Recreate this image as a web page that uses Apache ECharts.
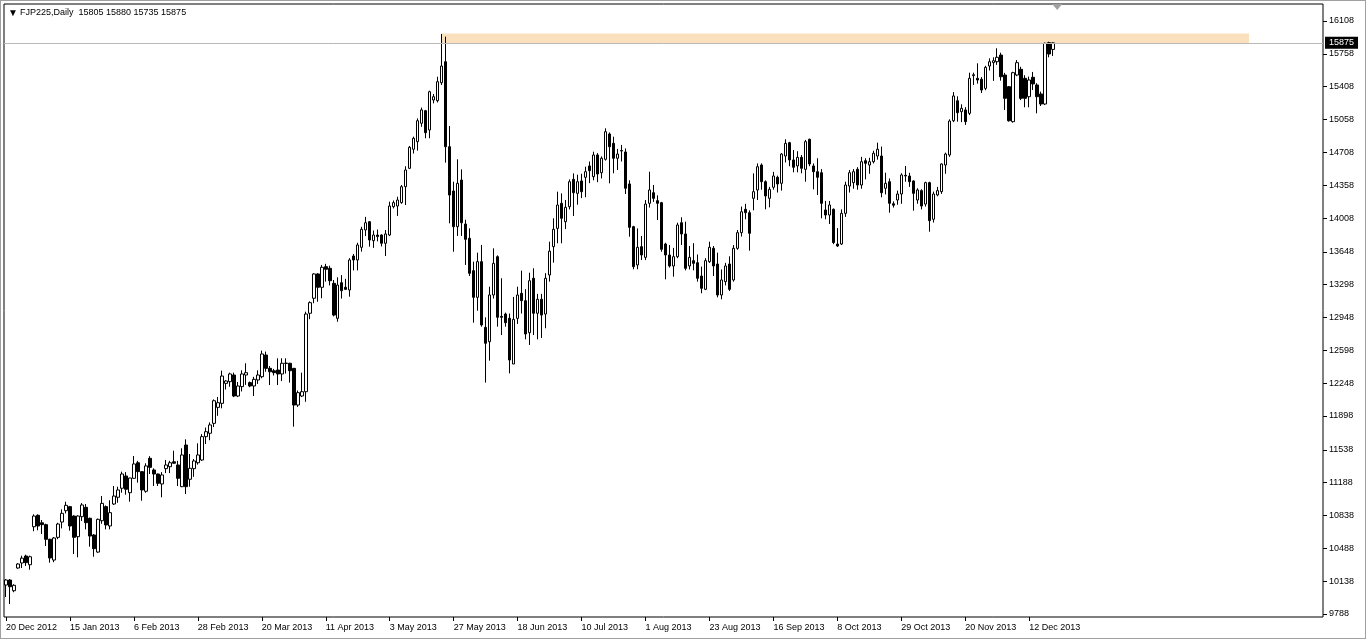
<!DOCTYPE html>
<html>
<head>
<meta charset="utf-8">
<script src="https://cdn.jsdelivr.net/npm/echarts@6/dist/echarts.min.js"></script>
<style>
html,body{margin:0;padding:0;background:#fff;}
#c{position:absolute;left:0;top:0;width:1366px;height:639px;}
#f{position:absolute;left:0;top:0;width:1366px;height:639px;box-sizing:border-box;border:1px solid #a0a0a0;pointer-events:none;}
</style>
</head>
<body>
<div id="c"></div>
<div id="f"></div>
<script>
// Date labels shown every 16 bars
const tickLabels = ["20 Dec 2012","15 Jan 2013","6 Feb 2013","28 Feb 2013","20 Mar 2013","11 Apr 2013","3 May 2013","27 May 2013","18 Jun 2013","10 Jul 2013","1 Aug 2013","23 Aug 2013","16 Sep 2013","8 Oct 2013","29 Oct 2013","20 Nov 2013","12 Dec 2013"];
const priceTicks = [9788,10138,10488,10838,11188,11538,11898,12248,12598,12948,13298,13648,14008,14358,14708,15058,15408,15758,16108];
const lastPrice = 15875;
const zoneTop = 15975, zoneBottom = 15862;
const titleText = "FJP225,Daily  15805 15880 15735 15875";

const opens = [10097,10150,10036,10278,10332,10406,10313,10718,10840,10760,10740,10584,10363,10605,10768,10889,10932,10832,10612,10825,10925,10808,10630,10448,10782,10932,10726,10960,11032,11128,
11259,11081,11234,11400,11305,11096,11447,11323,11280,11174,11337,11358,11410,11376,11145,11589,11224,11337,11400,11429,11678,11714,11820,11990,12033,12246,12264,12335,12111,12211,
12335,12254,12218,12282,12317,12548,12406,12380,12388,12346,12458,12460,12406,12015,12111,12157,12993,13153,13412,13270,13490,13472,13312,12939,13319,13270,13241,13603,13561,13696,
13881,13969,13767,13827,13827,13739,13827,14129,14136,14172,14342,14538,14741,14822,15018,15152,14946,15266,15258,15450,15674,14768,14296,13916,14413,13944,13792,13447,13163,13543,
12843,12690,13188,13596,12960,12985,12939,12452,12939,13206,13127,12786,13366,12993,13142,12985,13401,13703,13898,14165,13969,14129,14420,14271,14403,14442,14563,14449,14680,14491,
14634,14904,14804,14645,14722,14712,14371,13916,13508,13703,13589,14165,14278,14193,14172,13731,13614,13497,13596,13958,13838,13497,13554,13532,13390,13248,13543,13685,13518,13188,
13330,13518,13348,13685,13852,14101,14065,14218,14307,14573,14395,14218,14336,14442,14378,14669,14811,14627,14563,14655,14527,14847,14563,14502,14491,14094,14040,14101,13731,13731,
14058,14349,14385,14527,14360,14619,14573,14608,14669,14669,14325,14395,14160,14200,14264,14463,14456,14403,14200,14300,14157,14385,13995,14254,14289,14573,14680,15045,15258,15141,
15160,15124,15525,15497,15487,15390,15628,15664,15674,15745,15532,15408,15035,15532,15593,15497,15301,15508,15426,15330,15223,15877,15805];
const closes = [10150,10079,10094,10321,10383,10335,10398,10832,10726,10740,10584,10385,10598,10747,10861,10946,10726,10605,10832,10950,10761,10619,10484,10797,10967,10737,10868,11045,11110,11280,
11117,11237,11387,11305,11110,11366,11351,11280,11181,11270,11376,11400,11395,11234,11483,11145,11341,11419,11483,11678,11731,11803,12061,12040,12324,12271,12346,12111,12218,12346,
12360,12218,12289,12335,12559,12406,12370,12360,12346,12460,12462,12381,12015,12147,12157,12985,13106,13412,13270,13483,13462,13340,12974,13294,13234,13248,13561,13561,13721,13888,
13958,13774,13827,13810,13739,13838,14136,14172,14200,14342,14520,14762,14858,15045,15160,14918,15354,15301,15461,15628,14768,14253,13916,14378,13958,13781,13419,13163,13543,12868,
12673,13188,13525,12950,12950,12892,12495,12928,13188,13127,12772,13340,12993,13142,12974,13366,13655,13888,14147,14005,14122,14395,14278,14395,14289,14502,14513,14680,14477,14645,
14928,14768,14645,14690,14728,14325,13909,13490,13696,13614,14157,14307,14218,14165,13675,13614,13497,13596,13934,13838,13472,13589,13525,13366,13259,13554,13696,13497,13188,13348,
13497,13248,13685,13852,14075,14065,13845,14289,14555,14395,14243,14314,14456,14371,14690,14804,14627,14549,14655,14538,14822,14584,14502,14442,14165,14040,14147,13746,13710,14058,
14360,14491,14502,14360,14608,14591,14608,14698,14741,14278,14378,14165,14145,14264,14467,14456,14395,14271,14307,14136,14385,13980,14264,14300,14584,14690,15042,15309,15131,15177,
15035,15497,15535,15479,15372,15614,15674,15685,15721,15514,15284,15045,15557,15664,15284,15284,15479,15437,15301,15223,15870,15756,15875];
const lows = [9969,9894,10020,10270,10278,10300,10260,10670,10680,10640,10513,10335,10340,10585,10700,10860,10676,10427,10392,10780,10690,10506,10398,10440,10750,10690,10690,10950,10974,11081,
11060,10985,11230,11188,10995,11080,11280,11152,11152,11032,11290,11290,11390,11152,11140,11067,11145,11250,11380,11420,11600,11640,11780,11900,11980,12180,12210,12100,12100,12160,
12230,12205,12111,12240,12300,12370,12228,12330,12228,12270,12350,12254,11784,11995,12100,12050,12930,13100,13116,13153,13330,13290,12960,12903,13150,13240,13170,13450,13450,13650,
13815,13703,13690,13760,13705,13603,13815,14110,14030,14160,14147,14530,14695,14726,14980,14858,14858,15230,15240,15426,14598,13952,13649,13817,13817,13508,13390,12892,13020,12850,
12254,12488,13150,12850,12761,12850,12353,12452,12880,12990,12715,12655,12761,12715,12730,12833,13330,13532,13739,13739,13890,14100,14030,14150,14220,14230,14380,14410,14390,14430,
14620,14378,14485,14520,14610,14264,13809,13462,13462,13560,13560,14120,14180,13987,13649,13355,13480,13383,13580,13720,13450,13460,13450,13330,13206,13240,13530,13390,13163,13142,
13290,13230,13330,13670,13810,13995,13660,14090,14200,14310,14101,14122,14310,14280,14300,14600,14560,14495,14495,14485,14395,14560,14314,14254,14005,13995,13944,13730,13700,13720,
14020,14280,14320,14310,14320,14420,14480,14590,14630,14229,14260,14065,14120,14150,14160,14395,14340,14086,14160,14100,14130,13862,13960,14240,14265,14480,14660,15030,15035,15030,
15000,15105,15426,15440,15340,15370,15580,15470,15640,15472,15160,15035,15025,15520,15265,15188,15188,15372,15124,15202,15212,15721,15735];
const highs = [10160,10160,10105,10330,10409,10420,10410,10850,10850,10790,10750,10590,10608,10760,10904,10985,10940,10840,10840,10970,10960,10815,10640,10805,11045,10945,11000,11152,11145,11305,
11300,11240,11472,11420,11310,11394,11470,11340,11285,11300,11430,11420,11528,11420,11554,11650,11493,11440,11607,11705,11775,11830,12075,12100,12381,12280,12360,12360,12260,12385,
12460,12265,12315,12385,12595,12585,12430,12400,12513,12513,12513,12465,12410,12170,12360,13010,13120,13420,13420,13508,13520,13500,13348,13376,13400,13360,13580,13625,13745,13915,
14020,13975,13875,13885,13835,13880,14182,14195,14235,14360,14560,14775,14875,15070,15185,15160,15365,15330,15514,15970,15941,14989,14395,14634,14527,13990,13898,13543,13639,13721,
12950,13276,13685,13610,13366,13000,12990,13167,13276,13447,13250,13425,13472,13200,13200,13420,13756,14005,14289,14271,14200,14420,14484,14470,14480,14555,14610,14715,14700,14665,
14964,14920,14875,14745,14787,14750,14410,13925,13898,13817,14200,14502,14360,14250,14180,13745,13720,13690,13958,14016,13969,13710,13740,13620,13490,13580,13756,13710,13639,13460,
13530,13600,13720,13880,14130,14160,14090,14484,14590,14590,14410,14340,14500,14460,14700,14847,14820,14733,14720,14680,14840,14854,14590,14645,14530,14190,14190,14110,13900,14100,
14395,14520,14530,14550,14660,14645,14650,14725,14811,14770,14491,14430,14185,14300,14485,14563,14490,14410,14325,14315,14395,14395,14290,14340,14590,14705,15060,15350,15305,15220,
15190,15557,15557,15657,15510,15630,15710,15720,15817,15770,15555,15415,15567,15692,15620,15530,15515,15565,15445,15355,15877,15887,15880];

const totalSlots = 330;
const categories = [];
for (let i = 0; i < totalSlots; i++) categories.push(String(i));
const ohlc = opens.map((o, i) => [o, closes[i], lows[i], highs[i]]);
const isLabelIdx = idx => idx % 16 === 0 && idx / 16 < tickLabels.length;

const FONT = 'Liberation Sans';
const chart = echarts.init(document.getElementById('c'), null, {renderer: 'canvas'});
chart.setOption({
  animation: false,
  backgroundColor: '#fff',
  title: {
    text: '{t|▼}' + titleText,
    left: 8, top: 8, padding: 0,
    textStyle: {fontFamily: FONT, fontSize: 9, fontWeight: 'normal', color: '#000',
      rich: {t: {fontSize: 10, color: '#000', width: 12, align: 'left'}}}
  },
  grid: {left: 4, right: 43, top: 4, bottom: 22, show: true, borderColor: '#000', borderWidth: 1, backgroundColor: '#fff'},
  xAxis: {
    type: 'category', data: categories, boundaryGap: true,
    axisLine: {show: false},
    axisTick: {show: true, interval: isLabelIdx, alignWithLabel: true, length: 4, lineStyle: {color: '#000'}},
    axisLabel: {interval: isLabelIdx, align: 'left', margin: 6, fontFamily: FONT, fontSize: 9, color: '#000',
      formatter: (v, idx) => tickLabels[idx / 16] || ''},
    splitLine: {show: false}
  },
  yAxis: {
    type: 'value', position: 'right', min: 9756, max: 16289, scale: true,
    axisLine: {show: false},
    axisTick: {show: true, length: 4, lineStyle: {color: '#000'}, customValues: priceTicks},
    axisLabel: {fontFamily: FONT, fontSize: 9, color: '#000', margin: 6, customValues: priceTicks, formatter: v => String(v)},
    splitLine: {show: false}
  },
  series: [{
    type: 'candlestick',
    data: ohlc,
    barWidth: 3,
    itemStyle: {color: '#fff', color0: '#000', borderColor: '#000', borderColor0: '#000', borderWidth: 1},
    markArea: {
      silent: true,
      itemStyle: {color: '#FBE0BE'},
      data: [[{xAxis: 109, yAxis: zoneTop}, {xAxis: 311, yAxis: zoneBottom}]]
    },
    markLine: {
      silent: true, symbol: 'none',
      lineStyle: {color: '#b8b8b8', type: 'solid', width: 1},
      label: {position: 'end', distance: 2, formatter: String(lastPrice), backgroundColor: '#000', color: '#fff',
        fontFamily: FONT, fontSize: 9, padding: [2, 4, 1, 4]},
      data: [{yAxis: lastPrice}]
    },
    markPoint: {
      silent: true,
      symbol: 'triangle', symbolRotate: 180, symbolSize: [10, 6], symbolOffset: [0, 3],
      itemStyle: {color: '#a0a0a0'}, label: {show: false},
      data: [{coord: ['263', 16289]}]
    }
  }]
});
</script>
</body>
</html>
